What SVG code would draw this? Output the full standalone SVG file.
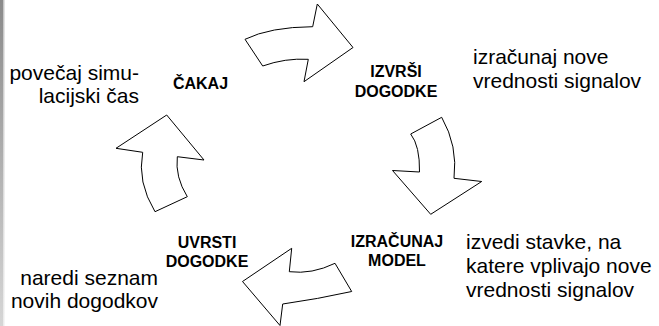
<svg xmlns="http://www.w3.org/2000/svg" width="659" height="326" viewBox="0 0 659 326">
<style>
.lbl{font-family:"Liberation Sans",Arial,sans-serif;font-size:16px;font-weight:bold;fill:#000;text-anchor:middle}
.note{font-family:"Liberation Sans",Arial,sans-serif;font-size:21px;fill:#000}
.arr{fill:#fff;stroke:#000;stroke-width:1;stroke-linejoin:miter}
</style>
<defs>
<linearGradient id="barA" x1="0" y1="0" x2="0" y2="1"><stop offset="0" stop-color="#8a8a8a"/><stop offset="1" stop-color="#d6d6d6"/></linearGradient>
<linearGradient id="barB" x1="0" y1="0" x2="0" y2="1"><stop offset="0" stop-color="#c4c4c4"/><stop offset="1" stop-color="#ececec"/></linearGradient>
</defs>
<rect x="0" y="0" width="659" height="326" fill="#fff"/>
<rect x="0" y="0" width="3" height="326" fill="url(#barA)"/>
<rect x="3" y="0" width="1.5" height="326" fill="url(#barB)"/>
<g id="connectors">
<path class="arr" d="M245,39.3 Q270,27 312.7,26.7 L317.3,4 L353,47.5 L304,81.7 L308.3,59.3 Q285,58 262.7,66 Z"/>
<path class="arr" d="M410.7,134 L441.7,117.3 Q458,146 454,178.3 L481.7,181.5 L430.7,214.3 L392.5,170.5 L419.5,172 Q420,146 410.7,134 Z"/>
<path class="arr" d="M291.7,248.3 L289.3,271.7 Q312,274.5 335,263.3 L351.7,291.5 Q318,299 282.7,304 L280,325.5 L242.5,281.5 Z"/>
<path class="arr" d="M166.7,115 L204,160 L177.3,156.7 Q175,177 187.3,196.7 L155,211.7 Q137,182 142.7,152.3 L116,148.3 Z"/>
</g>
<g id="cakaj">
<text class="lbl" x="200.5" y="89">ČAKAJ</text>
<text class="note" x="139" y="80" text-anchor="end">povečaj simu-</text>
<text class="note" x="139" y="103" text-anchor="end">lacijski čas</text>
</g>
<g id="izvrsi">
<text class="lbl" x="396" y="76.5">IZVRŠI</text>
<text class="lbl" x="396" y="96.5">DOGODKE</text>
<text class="note" x="473" y="64">izračunaj nove</text>
<text class="note" x="473" y="88">vrednosti signalov</text>
</g>
<g id="izracunaj">
<text class="lbl" x="397" y="246.5">IZRAČUNAJ</text>
<text class="lbl" x="397" y="266">MODEL</text>
<text class="note" x="466" y="249">izvedi stavke, na</text>
<text class="note" x="466" y="273">katere vplivajo nove</text>
<text class="note" x="466" y="297">vrednosti signalov</text>
</g>
<g id="uvrsti">
<text class="lbl" x="207" y="247.5">UVRSTI</text>
<text class="lbl" x="207" y="267">DOGODKE</text>
<text class="note" x="158" y="285" text-anchor="end">naredi seznam</text>
<text class="note" x="158" y="308" text-anchor="end">novih dogodkov</text>
</g>
</svg>
